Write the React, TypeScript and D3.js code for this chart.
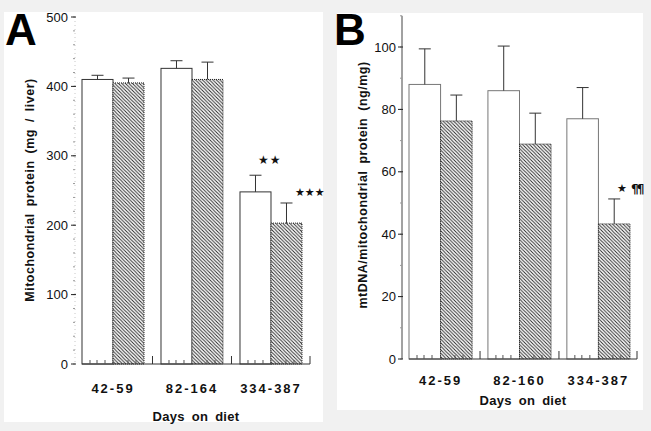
import React from "react";
import * as d3 from "d3";

const categoriesA = ["42-59", "82-164", "334-387"];
const controlA = [410, 426, 248];
const controlErrA = [6, 11, 24];
const restrictedA = [405, 410, 203];
const restrictedErrA = [7, 25, 29];
const ticksA = [0, 100, 200, 300, 400, 500];

const categoriesB = ["42-59", "82-160", "334-387"];
const controlB = [88, 86, 77];
const controlErrB = [11.4, 14.3, 10];
const restrictedB = [76.3, 68.9, 43.3];
const restrictedErrB = [8.3, 9.9, 8];
const ticksB = [0, 20, 40, 60, 80, 100];

const seriesKeys = ["control", "restricted"];
const FONT = "'Liberation Sans', Arial, Helvetica, sans-serif";

type Mark = { text: string; x: number; y: number; size: number; font: string; weight: string; spacing: number };

type PanelProps = {
  id: string;
  letter: string;
  letterX: number;
  cats: string[];
  ctrl: number[];
  ctrlErr: number[];
  restr: number[];
  restrErr: number[];
  ticks: number[];
  minorStep: number;
  yDomain: [number, number];
  yRange: [number, number];
  yTop: number;
  bandRange: [number, number];
  padInner: number;
  axisX: number;
  axisEnd: number;
  labelX: number;
  title: string;
  titleX: number;
  titleY: number;
  titleSize: number;
  catY: number;
  daysY: number;
  ctrlStroke: string;
  marks: Mark[];
};

function Panel(p: PanelProps) {
  const y = d3.scaleLinear().domain(p.yDomain).range(p.yRange);
  const x0 = d3.scaleBand<string>().domain(p.cats).range(p.bandRange).paddingInner(p.padInner);
  const x1 = d3.scaleBand<string>().domain(seriesKeys).range([0, x0.bandwidth()]);
  const base = y(0);
  const minor = d3.range(0, p.yTop + 0.001, p.minorStep);
  const bw = x1.bandwidth();
  const capW = 12;
  const sepXs = p.cats.map((c, i) => (i < p.cats.length - 1 ? (x0(c)! + x0.bandwidth() + x0(p.cats[i + 1])!) / 2 : p.axisEnd));
  const smallTicks: number[] = [];
  p.cats.forEach((c) => {
    const s = x0(c)!;
    [8, 15, 23, 46, 54].forEach((o) => smallTicks.push(s + o));
  });
  return (
    <g>
      <line x1={p.axisX} x2={p.axisX} y1={y(p.yTop)} y2={base} stroke={p.id === "A" ? "#c8c8c8" : "#444"} strokeWidth={1} strokeDasharray={p.id === "A" ? "1 3" : undefined} />
      {minor.map((v) => (
        <line key={"m" + v} x1={p.axisX - 2} x2={p.axisX} y1={y(v)} y2={y(v)} stroke="#999" strokeWidth={1} />
      ))}
      {p.ticks.map((t) => (
        <g key={"t" + t}>
          <line x1={p.axisX - 4} x2={p.axisX + 1} y1={y(t)} y2={y(t)} stroke="#222" strokeWidth={1} />
          <text x={p.labelX} y={y(t)} dy="0.35em" textAnchor="end" fontFamily={FONT} fontSize={13} fill="#111">
            {t}
          </text>
        </g>
      ))}
      {p.cats.map((c, i) => {
        const gx = x0(c)!;
        const cx = gx + x1("control")!;
        const rx = gx + x1("restricted")!;
        return (
          <g key={c}>
            <rect x={cx} y={y(p.ctrl[i])} width={bw} height={base - y(p.ctrl[i])} fill="#fff" stroke={p.ctrlStroke} strokeWidth={1} />
            <rect x={rx} y={y(p.restr[i])} width={bw} height={base - y(p.restr[i])} fill={`url(#hatch${p.id})`} stroke="#222" strokeWidth={1} strokeDasharray="1 1" />
            {[
              { x: cx + bw / 2, v: p.ctrl[i], e: p.ctrlErr[i] },
              { x: rx + bw / 2, v: p.restr[i], e: p.restrErr[i] },
            ].map((eb, k) => (
              <g key={k}>
                <line x1={eb.x} x2={eb.x} y1={y(eb.v)} y2={y(eb.v + eb.e)} stroke="#333" strokeWidth={1} />
                <line x1={eb.x - capW / 2} x2={eb.x + capW / 2} y1={y(eb.v + eb.e)} y2={y(eb.v + eb.e)} stroke="#333" strokeWidth={1} />
              </g>
            ))}
            <text x={gx + x0.bandwidth() / 2} y={p.catY} textAnchor="middle" fontFamily={FONT} fontWeight="bold" fontSize={13} letterSpacing={2} fill="#111">
              {c}
            </text>
          </g>
        );
      })}
      <line x1={x0(p.cats[0])!} x2={p.axisEnd} y1={base} y2={base} stroke="#333" strokeWidth={1} />
      {sepXs.map((sx, i) => (
        <line key={"s" + i} x1={sx} x2={sx} y1={base} y2={base - 8} stroke="#333" strokeWidth={1} />
      ))}
      {smallTicks.map((sx, i) => (
        <line key={"st" + i} x1={sx} x2={sx} y1={base} y2={base - 4} stroke="#555" strokeWidth={1} />
      ))}
      <text x={(x0(p.cats[0])! + p.axisEnd) / 2} y={p.daysY} textAnchor="middle" fontFamily={FONT} fontWeight="bold" fontSize={13} wordSpacing={3} letterSpacing={0.3} fill="#111">
        Days on diet
      </text>
      <text transform={`translate(${p.titleX},${p.titleY}) rotate(-90)`} textAnchor="middle" dy="0.35em" fontFamily={FONT} fontWeight="bold" fontSize={p.titleSize} letterSpacing={0.5} wordSpacing={3} fill="#111">
        {p.title}
      </text>
      {p.marks.map((s, i) => (
        <text key={"mk" + i} x={s.x} y={s.y} fontFamily={s.font} fontWeight={s.weight} fontSize={s.size} letterSpacing={s.spacing} fill="#111">
          {s.text}
        </text>
      ))}
      <text x={p.letterX} y={45} fontFamily={FONT} fontWeight="bold" fontSize={44} fill="#000">
        {p.letter}
      </text>
    </g>
  );
}

const STAR_FONT = "'DejaVu Sans', sans-serif";

export default function App() {
  return (
    <svg width={651} height={431} style={{ position: "absolute", left: 0, top: 0 }}>
      <defs>
        {["A", "B"].map((id) => (
          <pattern key={id} id={"hatch" + id} patternUnits="userSpaceOnUse" width={3.5} height={3.5}>
            <rect width={3.5} height={3.5} fill="#fff" />
            <path d="M-1,-1 L4.5,4.5 M2.5,-1 L4.5,1 M-1,2.5 L1,4.5" stroke="#222" strokeWidth={0.9} />
          </pattern>
        ))}
      </defs>
      <rect width={651} height={431} fill="#f1f1f1" />
      <rect x={4} y={12} width={319} height={410} fill="#fff" />
      <rect x={337} y={13} width={306} height={397} fill="#fff" />
      <Panel
        id="A"
        letter="A"
        letterX={5}
        cats={categoriesA}
        ctrl={controlA}
        ctrlErr={controlErrA}
        restr={restrictedA}
        restrErr={restrictedErrA}
        ticks={ticksA}
        minorStep={20}
        yDomain={[0, 500]}
        yRange={[364, 17]}
        yTop={500}
        bandRange={[82, 302]}
        padInner={0.215}
        axisX={75}
        axisEnd={310}
        labelX={68}
        title="Mitochondrial protein (mg / liver)"
        titleX={30}
        titleY={190}
        titleSize={12.5}
        catY={393}
        daysY={421}
        ctrlStroke="#333"
        marks={[
          { text: "★★", x: 258, y: 164, size: 12, font: STAR_FONT, weight: "normal", spacing: 1 },
          { text: "★★★", x: 295, y: 196, size: 11, font: STAR_FONT, weight: "normal", spacing: 0 },
        ]}
      />
      <Panel
        id="B"
        letter="B"
        letterX={334}
        cats={categoriesB}
        ctrl={controlB}
        ctrlErr={controlErrB}
        restr={restrictedB}
        restrErr={restrictedErrB}
        ticks={ticksB}
        minorStep={10}
        yDomain={[0, 100]}
        yRange={[359, 47]}
        yTop={110}
        bandRange={[409, 630]}
        padInner={0.2}
        axisX={402}
        axisEnd={637}
        labelX={396}
        title="mtDNA/mitochondrial protein (ng/mg)"
        titleX={363}
        titleY={185}
        titleSize={12.5}
        catY={385}
        daysY={405}
        ctrlStroke="#777"
        marks={[
          { text: "★", x: 617, y: 192, size: 11, font: STAR_FONT, weight: "normal", spacing: 0 },
          { text: "¶¶", x: 631, y: 193, size: 12, font: STAR_FONT, weight: "bold", spacing: -2 },
        ]}
      />
    </svg>
  );
}
